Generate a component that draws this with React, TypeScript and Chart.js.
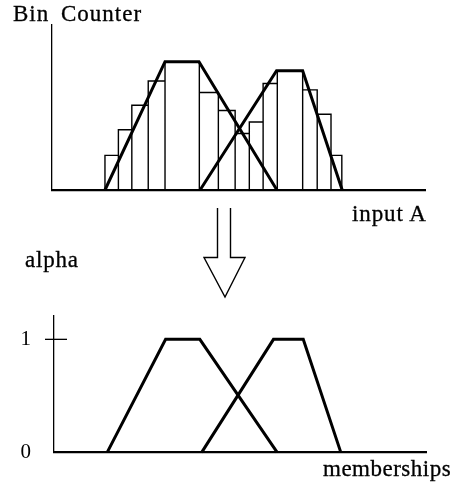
import React, { useEffect, useRef } from "react";
import { Chart, registerables } from "chart.js";

Chart.register(...registerables);

// ---- Data (x in "input" units 0..100) ----
const binEdges = [14.2, 17.8, 21.4, 25.8, 30.3, 39.5, 44.6, 49.1, 52.9, 56.6, 60.4, 67.2, 71.1, 74.8, 77.7];
const binCounts = [2.7, 4.7, 6.6, 8.5, 10.0, 7.6, 6.2, 4.4, 5.3, 8.3, 9.3, 7.8, 5.9, 2.7];

const fitAX = [14.2, 30.3, 39.4, 60.3];
const fitAY = [0, 10, 10, 0];
const fitBX = [39.7, 60.2, 67.2, 77.8];
const fitBY = [0, 9.3, 9.3, 0];

const memAX = [14.3, 30.0, 39.2, 60.0];
const memAY = [0, 1, 1, 0];
const memBX = [39.7, 59.0, 67.0, 77.1];
const memBY = [0, 1, 1, 0];

const alphaTicks = [0, 1];
const alphaTickLabels = ["0", "1"];

const xMin = 0;
const xMax = 100;
const countMax = 12.86;
const alphaMax = 1.21;

const toPts = (xs: number[], ys: number[]) => xs.map((x, i) => ({ x, y: ys[i] }));

const histPoints: { x: number; y: number }[] = [];
binCounts.forEach((c, i) => {
  histPoints.push(
    { x: binEdges[i], y: 0 },
    { x: binEdges[i], y: c },
    { x: binEdges[i + 1], y: c },
    { x: binEdges[i + 1], y: 0 }
  );
});

const FONT = "'Liberation Serif', 'Times New Roman', serif";

const lineDs = (data: any[], width: number) => ({
  data,
  showLine: true,
  borderColor: "#000",
  backgroundColor: "#000",
  borderWidth: width,
  pointRadius: 0,
  fill: false,
  tension: 0,
  clip: false as any,
});

const tickCrossPlugin = {
  id: "tickCross",
  afterDraw(chart: any) {
    const ys = chart.scales.y;
    const x = chart.chartArea.left;
    const y = ys.getPixelForValue(alphaTicks[1]);
    const ctx = chart.ctx;
    ctx.save();
    ctx.strokeStyle = "#000";
    ctx.lineWidth = 1.3;
    ctx.beginPath();
    ctx.moveTo(x - 9, y);
    ctx.lineTo(x + 13, y);
    ctx.stroke();
    ctx.restore();
  },
};

export default function App() {
  const topRef = useRef<HTMLCanvasElement>(null);
  const botRef = useRef<HTMLCanvasElement>(null);

  useEffect(() => {
    const top = new Chart(topRef.current!, {
      type: "scatter",
      data: {
        datasets: [
          lineDs(histPoints, 1.4),
          lineDs(toPts(fitAX, fitAY), 3),
          lineDs(toPts(fitBX, fitBY), 3),
        ] as any,
      },
      options: {
        animation: false,
        responsive: false,
        maintainAspectRatio: false,
        events: [],
        layout: { padding: { left: 52, right: 29, top: 25, bottom: 10 } },
        plugins: { legend: { display: false }, tooltip: { enabled: false } },
        scales: {
          x: {
            type: "linear",
            min: xMin,
            max: xMax,
            grid: { display: false, drawTicks: false },
            ticks: { display: false },
            border: { display: true, color: "#000", width: 2.2 },
            afterFit: (s: any) => {
              s.height = 0;
            },
          },
          y: {
            type: "linear",
            min: 0,
            max: countMax,
            grid: { display: false, drawTicks: false },
            ticks: { display: false },
            border: { display: true, color: "#000", width: 1.3 },
            afterFit: (s: any) => {
              s.width = 0;
            },
          },
        },
      } as any,
    });

    const bot = new Chart(botRef.current!, {
      type: "scatter",
      data: {
        datasets: [
          lineDs(toPts(memAX, memAY), 3),
          lineDs(toPts(memBX, memBY), 3),
        ] as any,
      },
      options: {
        animation: false,
        responsive: false,
        maintainAspectRatio: false,
        events: [],
        layout: { padding: { left: 0, right: 28, top: 7, bottom: 35 } },
        plugins: { legend: { display: false }, tooltip: { enabled: false } },
        scales: {
          x: {
            type: "linear",
            min: xMin,
            max: xMax,
            grid: { display: false, drawTicks: false },
            ticks: { display: false },
            border: { display: true, color: "#000", width: 2.2 },
            afterFit: (s: any) => {
              s.height = 0;
            },
          },
          y: {
            type: "linear",
            min: 0,
            max: alphaMax,
            grid: { display: false, drawTicks: false },
            afterBuildTicks: (s: any) => {
              s.ticks = alphaTicks.map((v) => ({ value: v }));
            },
            ticks: {
              display: true,
              padding: 23,
              color: "#000",
              font: { family: FONT, size: 21 },
              callback: (v: any) => alphaTickLabels[alphaTicks.indexOf(Number(v))] ?? "",
            },
            border: { display: true, color: "#000", width: 1.3 },
            afterFit: (s: any) => {
              s.width = 54;
            },
          },
        },
      } as any,
      plugins: [tickCrossPlugin],
    });

    return () => {
      top.destroy();
      bot.destroy();
    };
  }, []);

  const textStyle = (left: number, top: number, ls: number, ws = 0): React.CSSProperties => ({
    position: "absolute",
    left,
    top,
    fontFamily: FONT,
    fontSize: 23,
    lineHeight: "23px",
    letterSpacing: `${ls}px`,
    wordSpacing: `${ws}px`,
    color: "#000",
    whiteSpace: "nowrap",
    WebkitTextStroke: "0.3px #000",
  });

  return (
    <div
      style={{
        position: "fixed",
        left: 0,
        top: 0,
        width: 454,
        height: 488,
        background: "#fff",
        overflow: "hidden",
      }}
    >
      <canvas
        ref={topRef}
        width={454}
        height={200}
        style={{ position: "absolute", left: 0, top: 0, width: 454, height: 200 }}
      />
      <canvas
        ref={botRef}
        width={454}
        height={208}
        style={{ position: "absolute", left: 0, top: 280, width: 454, height: 208 }}
      />
      <svg
        width={454}
        height={488}
        style={{ position: "absolute", left: 0, top: 0, pointerEvents: "none" }}
      >
        <polyline
          points="217.5,208 217.5,257.5 204,257.5 225,297 245,257.5 230.5,257.5 230.5,208"
          fill="none"
          stroke="#000"
          strokeWidth={1.4}
        />
      </svg>
      <div style={textStyle(13, 1.7, 1, 5)}>Bin Counter</div>
      <div style={textStyle(352, 201.7, 0.9)}>input A</div>
      <div style={textStyle(25, 248, 0.8)}>alpha</div>
      <div style={textStyle(323, 457.4, 0.5)}>memberships</div>
    </div>
  );
}
